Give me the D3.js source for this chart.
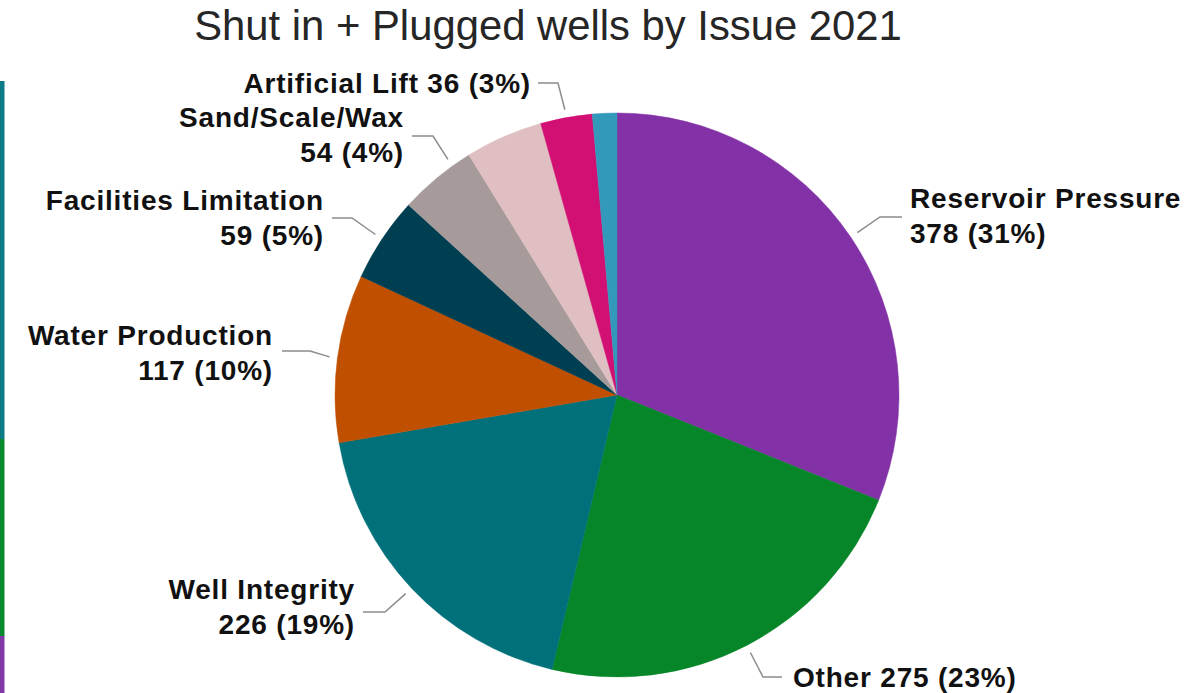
<!DOCTYPE html>
<html>
<head>
<meta charset="utf-8">
<script src="https://cdn.jsdelivr.net/npm/d3@7"></script>
<style>
  html, body { margin: 0; padding: 0; background: #ffffff; }
  svg { display: block; }
  .title { font-family: "Liberation Sans", Arial, sans-serif; font-size: 41.8px; fill: #262626; }
  .lbl { font-family: "Liberation Sans", Arial, sans-serif; font-size: 28px; font-weight: bold; fill: #111111; letter-spacing: 0.8px; }
</style>
</head>
<body>
<svg id="chart" width="1191" height="693"></svg>
<script>
// Issue categories, clockwise from 12 o'clock. Slices with an empty name get no label.
const categories = [
  "Reservoir Pressure", "Other", "Well Integrity", "Water Production",
  "Facilities Limitation", "Sand/Scale/Wax", "", "Artificial Lift", ""
];
// Number of shut-in + plugged wells per issue
const wellCounts = [378, 275, 226, 117, 59, 54, 54, 36, 17];
const sliceColors = [
  "#8331a6", "#068628", "#00707a", "#c04f00",
  "#003e52", "#a79a9a", "#dfbfc2", "#d20f73", "#3399bb"
];
// Labels drawn on one line instead of two
const singleLineLabels = ["Other", "Artificial Lift"];

// Label placement: text anchor point, leader elbow and leader end (px)
const labelLayout = {
  "Reservoir Pressure":   { anchor: "start", x: 910, y: 208, elbow: [880, 217], end: [902, 217], nudge: 0 },
  "Other":                { anchor: "start", x: 793, y: 687, elbow: [763, 677], end: [782, 677], nudge: 0 },
  "Well Integrity":       { anchor: "end",   x: 355, y: 599, elbow: [385, 612], end: [363, 612], nudge: 0 },
  "Water Production":     { anchor: "end",   x: 273, y: 345, elbow: [310, 351], end: [282, 351], nudge: 0 },
  "Facilities Limitation":{ anchor: "end",   x: 324, y: 210, elbow: [352, 218], end: [332, 218], nudge: 0 },
  "Sand/Scale/Wax":       { anchor: "end",   x: 404, y: 127, elbow: [433, 136], end: [412, 136], nudge: 4 },
  "Artificial Lift":      { anchor: "end",   x: 531, y: 93,  elbow: [558, 83],  end: [538, 83],  nudge: 0 }
};
const lineHeight = 35;

const svg = d3.select("#chart");
const cx = 617, cy = 395, radius = 282;

// Title
svg.append("text")
  .attr("class", "title")
  .attr("x", 548)
  .attr("y", 40)
  .attr("text-anchor", "middle")
  .text("Shut in + Plugged wells by Issue 2021");

// Coloured edge strip along the left border
const edgeStrip = [
  { color: "#0d7b85", y0: 81,  y1: 439 },
  { color: "#0a8a2f", y0: 439, y1: 636 },
  { color: "#8338a8", y0: 636, y1: 693 }
];
svg.append("g").selectAll("rect")
  .data(edgeStrip)
  .join("rect")
  .attr("x", 0)
  .attr("width", 4.5)
  .attr("y", d => d.y0)
  .attr("height", d => d.y1 - d.y0)
  .attr("fill", d => d.color);

const data = categories.map((c, i) => ({ name: c, value: wellCounts[i], color: sliceColors[i] }));
const total = d3.sum(wellCounts);

const pie = d3.pie().sort(null).value(d => d.value).startAngle(0).endAngle(2 * Math.PI);
const arcs = pie(data);
const arc = d3.arc().innerRadius(0).outerRadius(radius);

const g = svg.append("g").attr("transform", `translate(${cx},${cy})`);
g.selectAll("path")
  .data(arcs)
  .join("path")
  .attr("d", arc)
  .attr("fill", d => d.data.color)
  .attr("stroke", d => d.data.color)
  .attr("stroke-width", 0.5);

// Leader lines and labels
const labelled = arcs.filter(d => d.data.name !== "");
const pct = v => Math.round(v / total * 100) + "%";

labelled.forEach(d => {
  const lay = labelLayout[d.data.name];
  const mid = (d.startAngle + d.endAngle) / 2 + (lay.nudge * Math.PI / 180);
  const r0 = radius + 8;
  const sx = cx + r0 * Math.sin(mid);
  const sy = cy - r0 * Math.cos(mid);
  svg.append("polyline")
    .attr("points", [[sx, sy], lay.elbow, lay.end].map(p => p.join(",")).join(" "))
    .attr("fill", "none")
    .attr("stroke", "#8c8c8c")
    .attr("stroke-width", 1.5);

  const valueText = `${d.data.value} (${pct(d.data.value)})`;
  const lines = singleLineLabels.includes(d.data.name)
    ? [`${d.data.name} ${valueText}`]
    : [d.data.name, valueText];
  const t = svg.append("text")
    .attr("class", "lbl")
    .attr("text-anchor", lay.anchor);
  lines.forEach((ln, k) => {
    t.append("tspan")
      .attr("x", lay.x)
      .attr("y", lay.y + k * lineHeight)
      .text(ln);
  });
});
</script>
</body>
</html>
